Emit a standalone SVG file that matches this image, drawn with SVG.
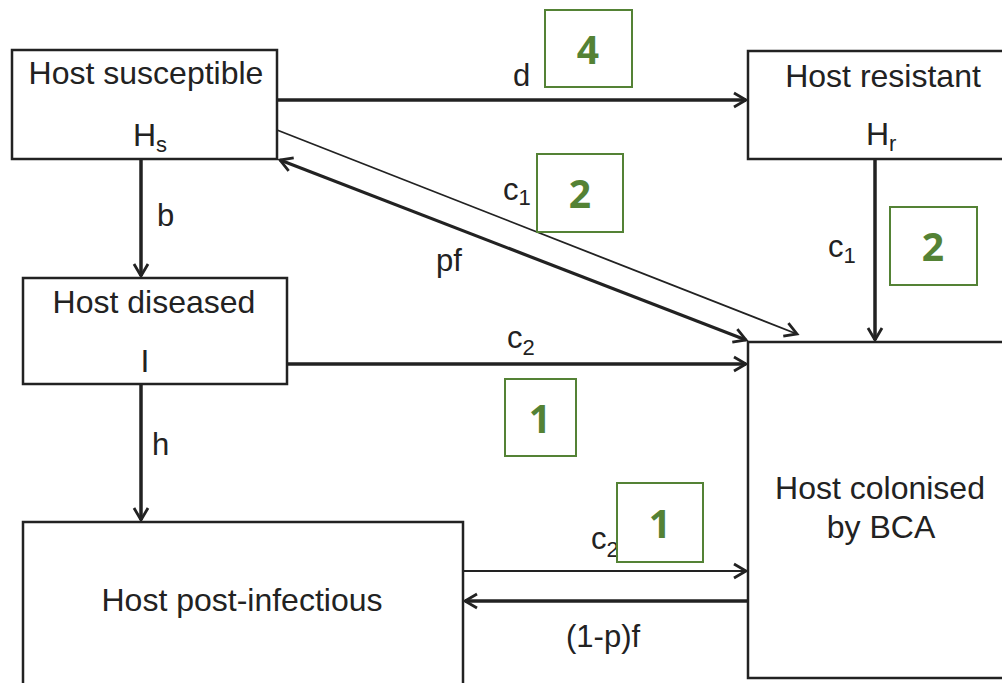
<svg xmlns="http://www.w3.org/2000/svg" width="1002" height="683" viewBox="0 0 1002 683">
<style>
.box{fill:#fff;stroke:#222;stroke-width:2.5}
.t{font-family:"Liberation Sans",Arial,sans-serif;font-size:32px;fill:#222}
.lab{font-family:"Liberation Sans",Arial,sans-serif;font-size:31px;fill:#222}
.sub{font-size:22px}
.tag{fill:none;stroke:#548235;stroke-width:2}
.tagt{font-family:"Open Sans","Liberation Sans",sans-serif;font-weight:700;font-size:39px;fill:#548235;text-anchor:middle}
.ln{fill:none;stroke:#222}
</style>
<defs>
<marker id="ah" markerUnits="userSpaceOnUse" markerWidth="20" markerHeight="20" refX="14" refY="10" orient="auto-start-reverse" viewBox="0 0 20 20">
<path d="M2,3 L14,10 L2,17" fill="none" stroke="#222" stroke-width="2.8"/>
</marker>
</defs>
<rect width="1002" height="683" fill="#fff"/>
<g id="connectors">
<line class="ln" x1="277" y1="100" x2="746" y2="100" stroke-width="3.5" marker-end="url(#ah)"/>
<line class="ln" x1="141" y1="159" x2="141" y2="276" stroke-width="3.5" marker-end="url(#ah)"/>
<line class="ln" x1="141" y1="384" x2="141" y2="520" stroke-width="3.5" marker-end="url(#ah)"/>
<line class="ln" x1="875" y1="159" x2="875" y2="340" stroke-width="3.5" marker-end="url(#ah)"/>
<line class="ln" x1="287" y1="364" x2="746" y2="364" stroke-width="3.5" marker-end="url(#ah)"/>
<line class="ln" x1="277" y1="130" x2="797" y2="334" stroke-width="1.8" marker-end="url(#ah)"/>
<line class="ln" x1="280" y1="160" x2="746" y2="340" stroke-width="3.2" marker-start="url(#ah)" marker-end="url(#ah)"/>
<line class="ln" x1="463" y1="571" x2="746" y2="571" stroke-width="2.2" marker-end="url(#ah)"/>
<line class="ln" x1="748" y1="601" x2="465" y2="601" stroke-width="3.5" marker-end="url(#ah)"/>
<text class="lab" x="513" y="86">d</text>
<text class="lab" x="157" y="226">b</text>
<text class="lab" x="152" y="455">h</text>
<text class="lab" x="503" y="200">c<tspan class="sub" dy="5">1</tspan></text>
<text class="lab" x="436" y="271">pf</text>
<text class="lab" x="828" y="257">c<tspan class="sub" dy="6">1</tspan></text>
<text class="lab" x="507" y="348">c<tspan class="sub" dy="7">2</tspan></text>
<text class="lab" x="591" y="549">c<tspan class="sub" dy="8">2</tspan></text>
<text class="lab" x="566" y="647">(1-p)f</text>
</g>
<g id="host-susceptible">
<rect class="box" x="12" y="50" width="265" height="109"/>
<text class="t" x="146" y="84" text-anchor="middle">Host susceptible</text>
<text class="t" x="133" y="146">H<tspan class="sub" dy="6">s</tspan></text>
</g>
<g id="host-resistant">
<rect class="box" x="748" y="51" width="270" height="108"/>
<text class="t" x="883" y="87" text-anchor="middle">Host resistant</text>
<text class="t" x="866" y="145">H<tspan class="sub" dy="6">r</tspan></text>
</g>
<g id="host-diseased">
<rect class="box" x="23" y="278" width="264" height="106"/>
<text class="t" x="154" y="313" text-anchor="middle">Host diseased</text>
<text class="t" x="145" y="372" text-anchor="middle">I</text>
</g>
<g id="host-post-infectious">
<rect class="box" x="23" y="522" width="440" height="180"/>
<text class="t" x="242" y="611" text-anchor="middle">Host post-infectious</text>
</g>
<g id="host-colonised">
<rect class="box" x="748" y="342" width="270" height="336"/>
<text class="t" x="880" y="499" text-anchor="middle">Host colonised</text>
<text class="t" x="881" y="538" text-anchor="middle">by BCA</text>
</g>
<g id="tag-4"><rect class="tag" x="545" y="10" width="87" height="77"/><text class="tagt" x="588" y="64">4</text></g>
<g id="tag-2a"><rect class="tag" x="537" y="154" width="86" height="78"/><text class="tagt" x="580" y="208">2</text></g>
<g id="tag-2b"><rect class="tag" x="890" y="207" width="87" height="78"/><text class="tagt" x="933" y="261">2</text></g>
<g id="tag-1a"><rect class="tag" x="505" y="379" width="71" height="77"/><text class="tagt" x="540" y="433">1</text></g>
<g id="tag-1b"><rect class="tag" x="617" y="483" width="86" height="79"/><text class="tagt" x="660" y="538">1</text></g>
</svg>
